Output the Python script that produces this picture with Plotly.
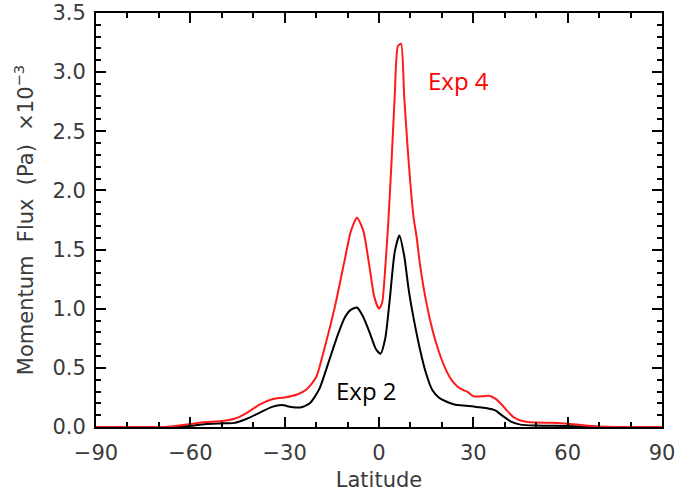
import plotly.graph_objects as go

# Zonal-mean momentum flux profiles (units of 1e-3 Pa) versus latitude
lat_exp4 = [-90, -80, -68, -66, -60, -56, -50, -46, -42, -38, -34, -30, -26, -23, -20, -17, -14,
            -11, -9, -7, -5, -3, -1.5, 0, 1, 2, 3, 4, 5, 6, 7, 8, 9, 10, 11, 12, 13, 15, 17,
            19, 21, 23, 25, 27, 28, 30, 33, 35, 37, 39, 41, 43, 45, 48, 55, 60, 65, 70, 75, 90]
flux_exp4 = [0, 0, 0, 0.005, 0.025, 0.04, 0.05, 0.07, 0.12, 0.19, 0.235, 0.25, 0.275, 0.32, 0.42,
             0.70, 1.02, 1.40, 1.65, 1.77, 1.66, 1.35, 1.10, 1.00, 1.05, 1.35, 1.75, 2.25, 2.80,
             3.22, 3.24, 2.80, 2.40, 2.05, 1.77, 1.60, 1.38, 1.06, 0.82, 0.64, 0.50, 0.40, 0.34,
             0.31, 0.30, 0.26, 0.26, 0.265, 0.24, 0.19, 0.13, 0.08, 0.055, 0.04, 0.035, 0.028,
             0.015, 0.005, 0, 0]

lat_exp2 = [-90, -80, -64, -60, -55, -50, -46, -42, -38, -34, -31, -28, -25, -22, -19, -16, -13.5,
            -11, -9, -7, -5, -3, -1, 0.5, 2, 3.5, 5, 6.5, 8, 9.5, 11, 13, 15, 17, 19, 21, 24, 28,
            31, 34, 37, 39, 42, 45, 50, 60, 65, 70, 90]
flux_exp2 = [0, 0, 0, 0.01, 0.025, 0.03, 0.035, 0.07, 0.12, 0.17, 0.185, 0.17, 0.165, 0.20, 0.32,
             0.55, 0.75, 0.92, 0.99, 1.01, 0.93, 0.80, 0.66, 0.62, 0.75, 1.10, 1.48, 1.62, 1.45,
             1.15, 0.92, 0.66, 0.45, 0.31, 0.25, 0.22, 0.19, 0.18, 0.17, 0.16, 0.14, 0.10, 0.045,
             0.02, 0.012, 0.008, 0.003, 0, 0]

x_ticks = [-90, -60, -30, 0, 30, 60, 90]
y_ticks = [0.0, 0.5, 1.0, 1.5, 2.0, 2.5, 3.0, 3.5]

axis_font = dict(family="DejaVu Sans", size=21, color="#3a3a3a")
title_font = dict(family="DejaVu Sans", size=21, color="#3a3a3a")

fig = go.Figure()
fig.add_trace(go.Scatter(x=lat_exp2, y=flux_exp2, mode="lines",
                         line=dict(color="black", width=2, shape="spline", smoothing=0.6),
                         showlegend=False))
fig.add_trace(go.Scatter(x=lat_exp4, y=flux_exp4, mode="lines",
                         line=dict(color="#ff1a1a", width=2, shape="spline", smoothing=0.6),
                         showlegend=False))

fig.add_annotation(x=14.8, y=2.93, xref="x", yref="y", text="Exp 4", showarrow=False,
                   xanchor="left", yanchor="middle",
                   font=dict(family="Open Sans", size=24, color="#ff0000"))
fig.add_annotation(x=-14.2, y=0.31, xref="x", yref="y", text="Exp 2", showarrow=False,
                   xanchor="left", yanchor="middle",
                   font=dict(family="Open Sans", size=24, color="black"))

fig.update_xaxes(range=[-90, 90], tickvals=x_ticks, ticktext=[str(v).replace("-", "\u2212") for v in x_ticks],
                 ticks="inside", ticklen=10, tickwidth=2, tickcolor="black",
                 minor=dict(dtick=10, ticks="inside", ticklen=5, tickwidth=2, tickcolor="black"),
                 showline=True, linecolor="black", linewidth=2, mirror="allticks",
                 showgrid=False, zeroline=False, tickfont=axis_font, ticklabelstandoff=6,
                 automargin=False, ticklabeloverflow="allow",
                 title=dict(text="Latitude", font=title_font, standoff=8))
fig.update_yaxes(range=[0, 3.5], tickvals=y_ticks, ticktext=[f"{v:.1f}" for v in y_ticks],
                 ticks="inside", ticklen=10, tickwidth=2, tickcolor="black",
                 minor=dict(dtick=0.1, ticks="inside", ticklen=5, tickwidth=2, tickcolor="black"),
                 showline=True, linecolor="black", linewidth=2, mirror="allticks",
                 showgrid=False, zeroline=False, tickfont=axis_font, ticklabelstandoff=4,
                 automargin=False, ticklabeloverflow="allow",
                 title=dict(text="Momentum  Flux  (Pa)  \u00d710<sup>\u22123</sup>", font=title_font, standoff=13))

fig.update_layout(width=676, height=494, margin=dict(l=96, r=14, t=13, b=67),
                  plot_bgcolor="white", paper_bgcolor="white")

fig.write_html("out.html")
